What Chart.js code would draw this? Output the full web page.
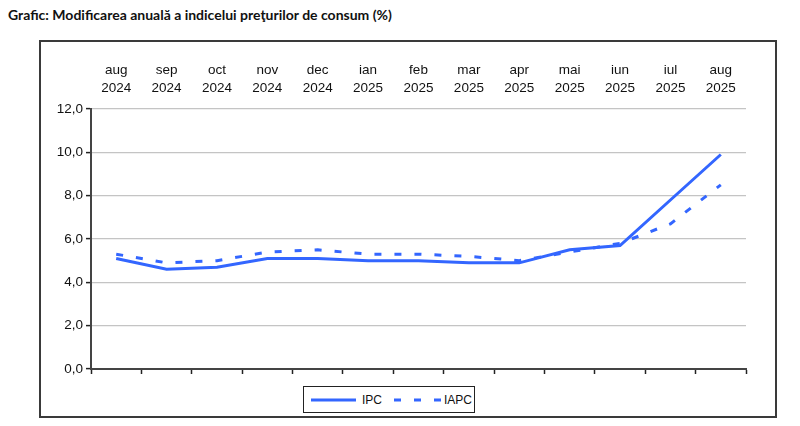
<!DOCTYPE html>
<html>
<head>
<meta charset="utf-8">
<script src="https://cdn.jsdelivr.net/npm/chart.js@4.4.0/dist/chart.umd.min.js"></script>
<style>
  html, body { margin: 0; padding: 0; background: #fff; }
  body { width: 800px; height: 426px; position: relative; overflow: hidden; }
  #title {
    position: absolute; left: 8px; top: 6px;
    font: bold 14px Lato, "Noto Sans", sans-serif; color: #111;
  }
  #frame {
    position: absolute; left: 39px; top: 40px; width: 734px; height: 374px;
    border: 2px solid #3a3a3a;
  }
  #chart { position: absolute; left: 0; top: 0; }
  #legend {
    position: absolute; left: 303px; top: 386px; width: 170px; height: 25px;
    border: 1px solid #222; background: #fff;
    font: 12px "Liberation Sans", Arial, sans-serif; color: #111;
  }
  #legend svg { position: absolute; left: 0; top: 0; }
  #legend span { position: absolute; top: 6px; }
</style>
</head>
<body>
<div id="title">Grafic: Modificarea anuală a indicelui preţurilor de consum (%)</div>
<div id="frame"></div>
<canvas id="chart" width="800" height="426" style="width:800px;height:426px"></canvas>
<div id="legend">
  <svg width="170" height="25">
    <line x1="7" y1="13" x2="52" y2="13" stroke="#3366ff" stroke-width="3"></line>
    <line x1="90" y1="13" x2="137" y2="13" stroke="#3366ff" stroke-width="3" stroke-dasharray="7 13"></line>
  </svg>
  <span style="left:58px">IPC</span>
  <span style="left:140px">IAPC</span>
</div>

<script>
// Modificarea anuala a IPC / IAPC (%)
const months = ['aug', 'sep', 'oct', 'nov', 'dec', 'ian', 'feb', 'mar', 'apr', 'mai', 'iun', 'iul', 'aug'];
const years  = ['2024', '2024', '2024', '2024', '2024', '2025', '2025', '2025', '2025', '2025', '2025', '2025', '2025'];
const ipc    = [5.1, 4.6, 4.7, 5.1, 5.1, 5.0, 5.0, 4.9, 4.9, 5.5, 5.7, 7.8, 9.9];
const iapc   = [5.3, 4.9, 5.0, 5.4, 5.5, 5.3, 5.3, 5.2, 5.0, 5.4, 5.8, 6.7, 8.5];
const yTicks = [0, 2, 4, 6, 8, 10, 12];

const labels = months.map((m, i) => [m, years[i]]);
const BLUE = '#3366ff';
const AXIS = '#444';
const fontAx = { family: '"Liberation Sans", Arial, sans-serif', size: 13.5, lineHeight: 1.33 };

new Chart(document.getElementById('chart'), {
  type: 'line',
  data: {
    labels,
    datasets: [
      { label: 'IPC', data: ipc, borderColor: BLUE, borderWidth: 3, pointRadius: 0, tension: 0, xAxisID: 'x' },
      { label: 'IAPC', data: iapc, borderColor: BLUE, borderWidth: 3, borderDash: [7, 13], pointRadius: 0, tension: 0, xAxisID: 'x' }
    ]
  },
  options: {
    responsive: false,
    animation: false,
    devicePixelRatio: 1,
    layout: { padding: { left: 40, right: 54, top: 50, bottom: 52 } },
    plugins: { legend: { display: false }, tooltip: { enabled: false } },
    scales: {
      x: {
        type: 'category',
        position: 'bottom',
        offset: true,
        grid: { display: true, offset: true, drawOnChartArea: false, drawTicks: true, tickLength: 5, tickColor: '#222', tickWidth: 1.5 },
        border: { display: true, color: AXIS, width: 2 },
        ticks: { display: false },
        afterFit: (s) => { s.height = 5; }
      },
      xTop: {
        type: 'category',
        position: 'top',
        offset: true,
        labels,
        grid: { display: false },
        border: { display: false },
        ticks: { color: '#111', font: fontAx, padding: 4, maxRotation: 0, autoSkip: false },
        afterFit: (s) => { s.height = 59; }
      },
      y: {
        min: 0, max: 12,
        afterBuildTicks: (s) => { s.ticks = yTicks.map(v => ({ value: v })); },
        grid: { color: '#c4c4c4', lineWidth: 1.2, drawTicks: true, tickLength: 5, tickColor: '#222', tickWidth: 1.5 },
        border: { display: true, color: AXIS, width: 2 },
        ticks: {
          color: '#111', font: fontAx, padding: 3,
          callback: (v) => v.toFixed(1).replace('.', ',')
        },
        afterFit: (s) => { s.width = 51; }
      }
    }
  }
});
</script>
</body>
</html>
